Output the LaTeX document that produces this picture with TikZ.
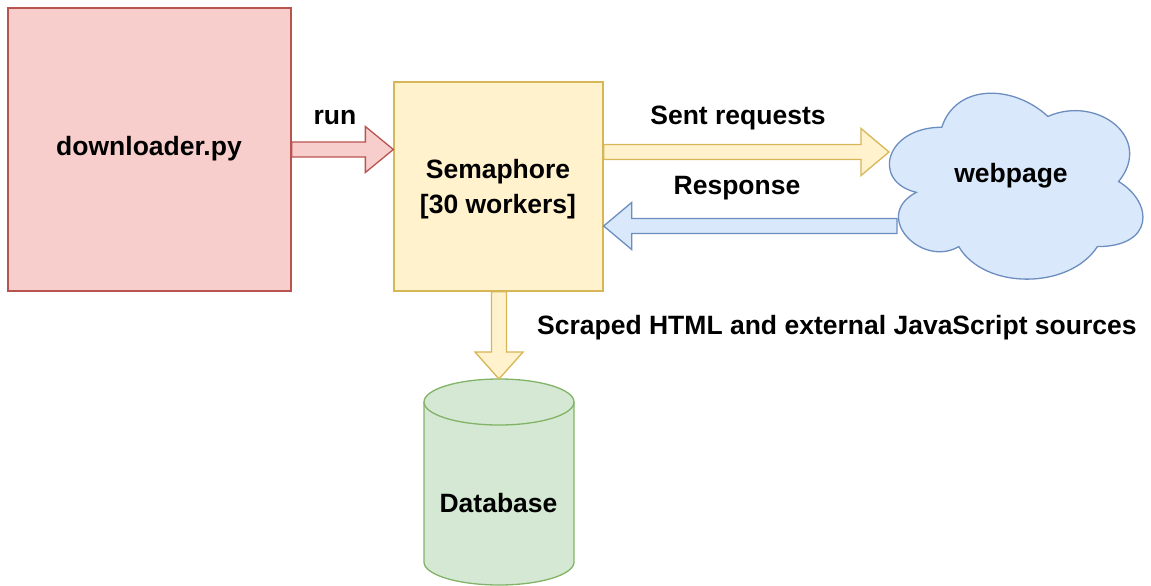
\documentclass[tikz,border=0pt]{standalone}
\usepackage{fontspec}
\setmainfont{Liberation Sans}
\usetikzlibrary{calc}

\definecolor{redF}{HTML}{F8CECC}
\definecolor{redS}{HTML}{B85450}
\definecolor{yelF}{HTML}{FFF2CC}
\definecolor{yelS}{HTML}{D6B656}
\definecolor{bluF}{HTML}{DAE8FC}
\definecolor{bluS}{HTML}{6C8EBF}
\definecolor{grnF}{HTML}{D5E8D4}
\definecolor{grnS}{HTML}{82B366}

\tikzset{
  lbl/.style={font=\fontsize{26.5}{30}\selectfont\bfseries, anchor=base, inner sep=0pt},
  box/.style={rectangle, line width=1.3pt, inner sep=0pt},
  redbox/.style={box, draw=redS, fill=redF},
  yelbox/.style={box, draw=yelS, fill=yelF},
  yelarrow/.style={draw=yelS, fill=yelF, line width=1.3pt, line join=miter},
  redarrow/.style={draw=redS, fill=redF, line width=1.3pt, line join=miter},
  bluarrow/.style={draw=bluS, fill=bluF, line width=1.3pt, line join=miter},
  cloudshape/.style={draw=bluS, fill=bluF, line width=1.3pt},
  dbshape/.style={draw=grnS, fill=grnF, line width=1.3pt},
}

% block arrow: style, start, tip, shaft half-width, head half-width, head length
\newcommand\blockarrow[6]{%
  \coordinate (ba-s) at (#2);
  \coordinate (ba-e) at (#3);
  \coordinate (ba-n) at ($(ba-e)!#6!(ba-s)$);
  \filldraw[#1] ($(ba-s)!#4!90:(ba-e)$) -- ($(ba-n)!#4!-90:(ba-s)$)
    -- ($(ba-n)!#5!-90:(ba-s)$) -- (ba-e) -- ($(ba-n)!#5!90:(ba-s)$)
    -- ($(ba-n)!#4!90:(ba-s)$) -- ($(ba-s)!#4!-90:(ba-e)$) -- cycle;
}

\begin{document}
\begin{tikzpicture}[x=1pt, y=-1pt]
\useasboundingbox (0,0) rectangle (1151,586);

% main boxes
\node[redbox, minimum width=283pt, minimum height=283pt] (dl) at (149.5,149.5) {};
\node[yelbox, minimum width=209pt, minimum height=209pt] (sem) at (498.5,186.5) {};

% cloud
\begin{scope}[shift={(871,73)}, x=283pt, y=-217pt]
  \draw[cloudshape] (0.25,0.25) .. controls (0.05,0.25) and (0,0.5) .. (0.16,0.55)
    .. controls (0,0.66) and (0.18,0.9) .. (0.31,0.8)
    .. controls (0.4,1) and (0.7,1) .. (0.8,0.8)
    .. controls (1,0.8) and (1,0.6) .. (0.875,0.5)
    .. controls (1,0.3) and (0.8,0.1) .. (0.625,0.2)
    .. controls (0.5,0.05) and (0.3,0.05) .. (0.25,0.25) -- cycle;
  \coordinate (web) at (0.5,0.5);
\end{scope}
\coordinate (webL) at (889,152);
\coordinate (webR) at (897,226);

% database cylinder
\coordinate (dbtop) at (499,379);
\filldraw[dbshape] (424,402) -- (424,562)
  arc[start angle=180, end angle=360, x radius=75pt, y radius=23pt]
  -- (574,402)
  arc[start angle=0, end angle=180, x radius=75pt, y radius=23pt] -- cycle;
\draw[dbshape, fill=none] (424,402)
  arc[start angle=180, end angle=360, x radius=75pt, y radius=23pt];

% arrows
\blockarrow{redarrow}{dl.east}{dl.east -| sem.west}{7.5pt}{23pt}{28pt}
\blockarrow{yelarrow}{sem.east |- webL}{webL}{7.5pt}{23.5pt}{28pt}
\blockarrow{bluarrow}{webR}{webR -| sem.east}{7.5pt}{23.5pt}{28pt}
\blockarrow{yelarrow}{sem.south -| dbtop}{dbtop}{7.5pt}{24pt}{27pt}

% texts
\node[lbl] (tdl) at (149,155) {downloader.py};
\node[lbl] (tsem1) at (498,178) {Semaphore};
\node[lbl] (tsem2) at (498,213) {[30 workers]};
\node[lbl] (tweb) at (1011,182) {webpage};
\node[lbl] (tdb) at (498.5,512) {Database};
\node[lbl] (trun) at (335,124) {run};
\node[lbl] (tsent) at (738,124) {Sent requests};
\node[lbl] (tresp) at (737,194) {Response};
\node[lbl, anchor=base west] (tscr) at (537,334) {Scraped HTML and external JavaScript sources};
\end{tikzpicture}
\end{document}
